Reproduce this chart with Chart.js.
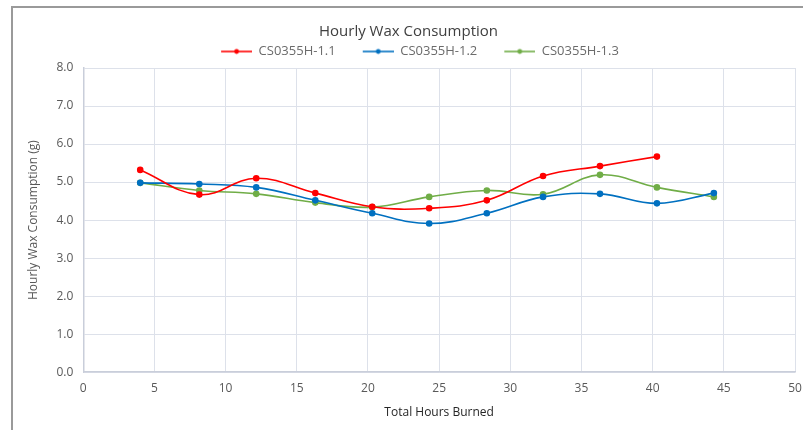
<!DOCTYPE html>
<html>
<head>
<meta charset="utf-8">
<script src="https://cdn.jsdelivr.net/npm/chart.js@4.4.1/dist/chart.umd.min.js"></script>
<style>
 body{margin:0;background:#fff;}
 #wrap{position:relative;width:803px;height:430px;overflow:hidden;}
 #frame{position:absolute;left:11px;top:6px;width:900px;height:500px;border-left:2px solid #9a9a9a;border-top:2px solid #9a9a9a;}
 canvas{position:absolute;left:0;top:0;}
</style>
</head>
<body>
<div id="wrap">
 <div id="frame"></div>
 <canvas id="grafico" width="803" height="430"></canvas>
</div>
<script>
// horas acumuladas de cada medida
const horas = [4.0, 8.15, 12.15, 16.3, 20.3, 24.3, 28.35, 32.3, 36.3, 40.3, 44.3];

const serieNombres = ["CS0355H-1.1", "CS0355H-1.2", "CS0355H-1.3"];
const consumo11 = [5.32, 4.67, 5.1, 4.71, 4.35, 4.31, 4.52, 5.16, 5.42, 5.67];
const consumo12 = [4.98, 4.95, 4.86, 4.52, 4.18, 3.91, 4.18, 4.61, 4.69, 4.44, 4.71];
const consumo13 = [4.98, 4.78, 4.69, 4.46, 4.34, 4.61, 4.78, 4.68, 5.19, 4.86, 4.61];

const xTicks = [0, 5, 10, 15, 20, 25, 30, 35, 40, 45, 50];
const yTicks = [0, 1, 2, 3, 4, 5, 6, 7, 8];

const colores = ["#ff0000", "#0070c0", "#70ad47"];
const fuente = "'Open Sans', sans-serif";

function puntos(vals){
 return vals.map((v, i) => ({ x: horas[i], y: v }));
}

// icono de leyenda: hueco a la izquierda + linea con punto al centro
const ANCHO_ICONO = 54;
function iconoLeyenda(color){
 const c = document.createElement("canvas");
 c.width = ANCHO_ICONO; c.height = 8;
 const g = c.getContext("2d");
 const x0 = ANCHO_ICONO - 31;
 g.strokeStyle = color; g.lineWidth = 1.6;
 g.beginPath(); g.moveTo(x0, 4); g.lineTo(ANCHO_ICONO, 4); g.stroke();
 g.fillStyle = color;
 g.beginPath(); g.arc(x0 + 15.5, 4, 2.4, 0, Math.PI * 2); g.fill();
 return c;
}

const series = [consumo11, consumo12, consumo13];

const ctx = document.getElementById("grafico").getContext("2d");
new Chart(ctx, {
 type: "line",
 data: {
  datasets: series.map((s, i) => ({
   label: serieNombres[i],
   data: puntos(s),
   borderColor: colores[i],
   backgroundColor: colores[i],
   borderWidth: 1.6,
   pointRadius: 2.5,
   pointHoverRadius: 3,
   tension: 0.4,
   fill: false
  }))
 },
 options: {
  responsive: false,
  animation: false,
  layout: { padding: { left: 22, right: 8, top: 23, bottom: 6 } },
  plugins: {
   title: {
    display: true,
    text: "Hourly Wax Consumption",
    color: "#404040",
    font: { family: fuente, size: 15, weight: "normal" },
    padding: { top: 0, bottom: 0 }
   },
   legend: {
    display: true,
    labels: {
     color: "#6b6b6b",
     font: { family: fuente, size: 13 },
     padding: 4,
     usePointStyle: true,
     pointStyleWidth: ANCHO_ICONO,
     generateLabels: chart => chart.data.datasets.map((d, i) => ({
      text: d.label,
      pointStyle: iconoLeyenda(colores[i]),
      fontColor: "#6b6b6b",
      strokeStyle: colores[i],
      fillStyle: colores[i],
      lineWidth: 0,
      datasetIndex: i
     }))
    }
   },
   tooltip: { enabled: false }
  },
  scales: {
   x: {
    type: "linear",
    min: 0,
    max: 50,
    afterBuildTicks: ax => { ax.ticks = xTicks.map(v => ({ value: v })); },
    afterFit: ax => { ax.paddingRight = 0; },
    ticks: {
     color: "#595959",
     font: { family: fuente, size: 12 },
     padding: 9
    },
    grid: { color: "#dde1ea", lineWidth: 1, drawTicks: false },
    border: { color: "#c9ceda", width: 1.5 },
    title: {
     display: true,
     text: "Total Hours Burned",
     color: "#262626",
     font: { family: fuente, size: 12 },
     padding: { top: 1 }
    }
   },
   y: {
    min: 0,
    max: 8,
    afterBuildTicks: ax => { ax.ticks = yTicks.map(v => ({ value: v })); },
    ticks: {
     color: "#595959",
     font: { family: fuente, size: 12 },
     padding: 10,
     callback: v => v.toFixed(1)
    },
    grid: { color: "#dde1ea", lineWidth: 1, drawTicks: false },
    border: { color: "#c9ceda", width: 1.5 },
    title: {
     display: true,
     text: "Hourly Wax Consumption (g)",
     color: "#595959",
     font: { family: fuente, size: 12 },
     padding: { bottom: 6 }
    }
   }
  }
 }
});
</script>
</body>
</html>
